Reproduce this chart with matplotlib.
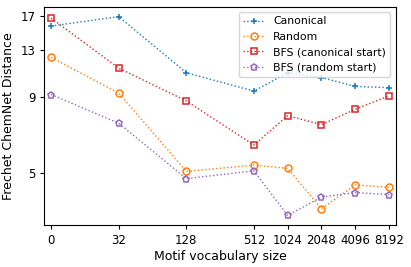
import numpy as np
import matplotlib
matplotlib.use('Agg')
import matplotlib.pyplot as plt
from matplotlib.ticker import FixedLocator, NullLocator, FixedFormatter

vocab_sizes = [0, 32, 128, 512, 1024, 2048, 4096, 8192]
canonical = [15.7, 16.9, 10.9, 9.45, 10.9, 10.5, 9.8, 9.7]
random_order = [12.3, 9.3, 5.05, 5.3, 5.17, 3.77, 4.54, 4.46]
bfs_canonical = [16.7, 11.3, 8.75, 6.2, 7.8, 7.27, 8.2, 9.1]
bfs_random = [9.2, 7.35, 4.77, 5.07, 3.58, 4.13, 4.28, 4.21]

# 0 sits one "step" left of 32 on the log2 axis
xpos = np.log2([max(v, 8) for v in vocab_sizes])

fig, ax = plt.subplots(figsize=(4.11, 2.67), dpi=100)
fig.subplots_adjust(left=0.108, right=0.963, bottom=0.156, top=0.975)

kw = dict(linestyle=':', linewidth=1, markersize=5, fillstyle='none', markeredgewidth=1.1)
ax.plot(xpos, canonical, marker='+', color='tab:blue', label='Canonical', **kw)
ax.plot(xpos, random_order, marker='o', color='tab:orange', label='Random', **kw)
ax.plot(xpos, bfs_canonical, marker='s', color='tab:red', label='BFS (canonical start)', **kw)
ax.plot(xpos, bfs_random, marker='p', color='tab:purple', label='BFS (random start)', **kw)

ax.set_yscale('log')
ax.yaxis.set_major_locator(FixedLocator([5, 9, 13, 17]))
ax.yaxis.set_major_formatter(FixedFormatter(['5', '9', '13', '17']))
ax.yaxis.set_minor_locator(NullLocator())

ax.set_xticks(xpos)
ax.set_xticklabels([str(v) for v in vocab_sizes])
ax.set_xlim(2.8, 13.2)
ax.tick_params(labelsize=8.5, length=3)

ax.set_xlabel('Motif vocabulary size', fontsize=9, labelpad=2)
ax.set_ylabel('Frechet ChemNet Distance', fontsize=9, labelpad=4)
ax.legend(loc='upper right', fontsize=7.8)

fig.savefig('out.png')
